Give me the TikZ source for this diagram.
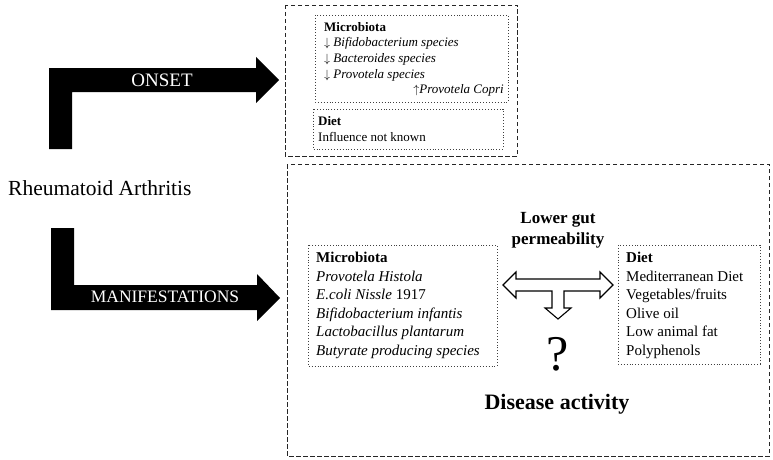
\documentclass[tikz,border=0pt]{standalone}
\usepackage{fontspec}
\setmainfont{Liberation Serif}
\usetikzlibrary{positioning}

\begin{document}
\begin{tikzpicture}[x=1pt,y=-1pt,
    dashbox/.style={draw=black!85, dash pattern=on 4.5pt off 2.5pt, line width=0.9pt},
    dotbox/.style={draw=black!75, dotted, line width=0.9pt},
    boxtext/.style={anchor=north west, inner sep=0pt, align=left},
    bigarrow/.style={fill=black},
    arrowlabel/.style={text=white, inner sep=0pt}]
    \useasboundingbox (0,0) rectangle (773,460);

    % main label
    \node[anchor=west, inner sep=0pt, font=\fontsize{21.5}{24}\selectfont] (ra) at (8,188) {Rheumatoid Arthritis};

    % onset arrow
    \fill[bigarrow] (49,149) -- (49,68) -- (256,68) -- (256,57) -- (279,80)
      -- (256,103) -- (256,92) -- (72,92) -- (72,149) -- cycle;
    \node[arrowlabel, font=\fontsize{19}{22}\selectfont] (onset) at (162,80) {ONSET};

    % manifestations arrow
    \fill[bigarrow] (51,228) -- (74,228) -- (74,285) -- (257,285) -- (257,274) -- (280,298)
      -- (257,321) -- (257,310) -- (51,310) -- cycle;
    \node[arrowlabel, font=\fontsize{17.5}{20}\selectfont] (manif) at (165,297) {MANIFESTATIONS};

    % onset box
    \draw[dashbox] (285,5) rectangle (517,156);
    \draw[dotbox] (315,15) rectangle (508,102);
    \draw[dotbox] (313,109) rectangle (503,149);
    \node[boxtext, font=\fontsize{13}{15.7}\selectfont] (mbonset) at (324,22)
      {\textbf{Microbiota}\\
       $\downarrow$ \textit{Bifidobacterium species}\\
       $\downarrow$ \textit{Bacteroides species}\\
       $\downarrow$ \textit{Provotela species}};
    \node[anchor=east, inner sep=0pt, font=\fontsize{13}{15.7}\selectfont] (copri) at (504,90)
      {$\uparrow$\textit{Provotela Copri}};
    \node[boxtext, font=\fontsize{13}{16}\selectfont] (dietonset) at (318,116)
      {\textbf{Diet}\\Influence not known};

    % manifestations box
    \draw[dashbox] (287,164) rectangle (769,456);
    \draw[dotbox] (308,245) rectangle (497,366);
    \draw[dotbox] (618,245) rectangle (760,364);
    \node[boxtext, font=\fontsize{15}{18.5}\selectfont] (mbmanif) at (316,252)
      {\textbf{Microbiota}\\
       \textit{Provotela Histola}\\
       \textit{E.coli Nissle} 1917\\
       \textit{Bifidobacterium infantis}\\
       \textit{Lactobacillus plantarum}\\
       \textit{Butyrate producing species}};
    \node[boxtext, font=\fontsize{15}{18.5}\selectfont] (dietmanif) at (626,252)
      {\textbf{Diet}\\
       Mediterranean Diet\\
       Vegetables/fruits\\
       Olive oil\\
       Low animal fat\\
       Polyphenols};

    \node[align=center, inner sep=0pt, font=\bfseries\fontsize{17}{21}\selectfont] (gut) at (558,230.5)
      {Lower gut\\permeability};
    \draw[line width=1.1pt, line join=miter] (503,285) -- (516,272) -- (516,279) -- (600,279) -- (600,272)
      -- (613,285) -- (600,298) -- (600,291) -- (564,291) -- (564,308) -- (571,308) -- (558,319)
      -- (545,308) -- (552,308) -- (552,291) -- (516,291) -- (516,298) -- cycle;
    \node[inner sep=0pt, font=\fontsize{50}{54}\selectfont] (quest) at (558,354) {?};
    \node[inner sep=0pt, font=\bfseries\fontsize{22}{26}\selectfont] (activity) at (557,404) {Disease activity};
\end{tikzpicture}
\end{document}
